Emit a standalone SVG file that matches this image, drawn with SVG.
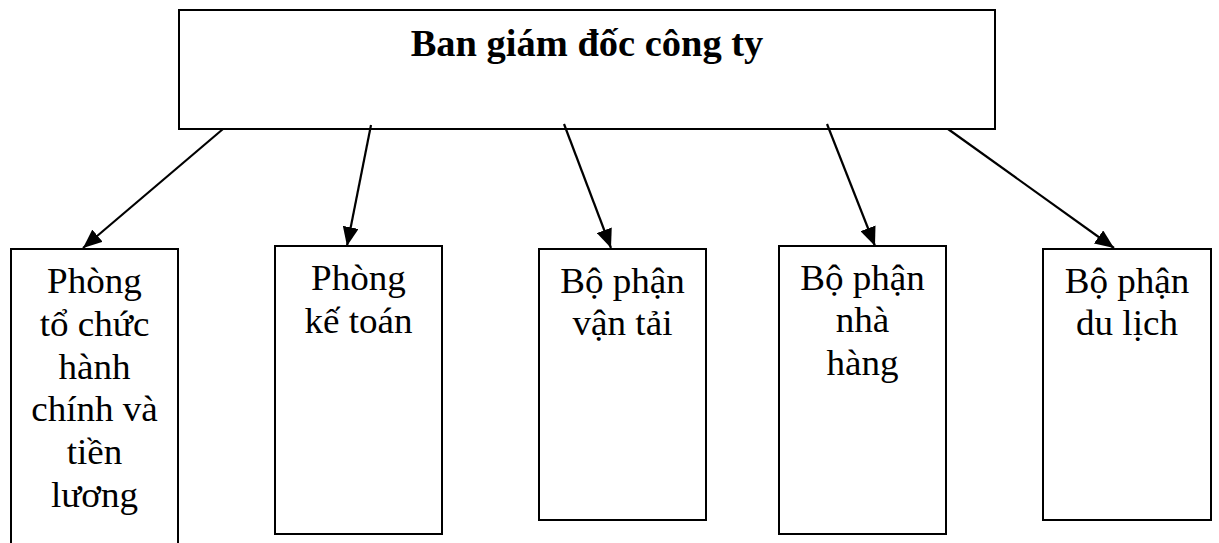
<svg xmlns="http://www.w3.org/2000/svg" width="1219" height="543" viewBox="0 0 1219 543">
  <style>
    .box { fill: #ffffff; stroke: #000000; stroke-width: 2; }
    .title { font-family: "Liberation Serif", "Times New Roman", serif; font-size: 37px; font-weight: bold; fill: #000000; text-anchor: middle; }
    .label { font-family: "Liberation Serif", "Times New Roman", serif; font-size: 35px; fill: #000000; text-anchor: middle; }
    .edge { stroke: #000000; stroke-width: 2.2; fill: none; marker-end: url(#arrow); }
  </style>
  <defs>
    <marker id="arrow" markerUnits="userSpaceOnUse" markerWidth="20" markerHeight="16" refX="19" refY="8" orient="auto">
      <path d="M0,0 L19,8 L0,16 z" fill="#000000"/>
    </marker>
  </defs>
  <rect width="1219" height="543" fill="#ffffff"/>

  <g id="ban-giam-doc">
    <rect class="box" x="179" y="10" width="816" height="119"/>
    <g transform="translate(587 0) scale(1.04 1)">
      <text class="title" x="0" y="56">Ban giám đốc công ty</text>
    </g>
  </g>

  <!-- labels are set slightly wide, as in the printed chart -->
  <g id="phong-to-chuc">
    <rect class="box" x="11" y="249" width="167" height="320"/>
    <g transform="translate(94.5 0) scale(1.06 1)">
      <text class="label" x="0" y="293">Phòng</text>
      <text class="label" x="0" y="336">tổ chức</text>
      <text class="label" x="0" y="379">hành</text>
      <text class="label" x="0" y="421">chính và</text>
      <text class="label" x="0" y="464">tiền</text>
      <text class="label" x="0" y="507">lương</text>
    </g>
  </g>

  <g id="phong-ke-toan">
    <rect class="box" x="275" y="246" width="167" height="288"/>
    <g transform="translate(358.5 0) scale(1.06 1)">
      <text class="label" x="0" y="290">Phòng</text>
      <text class="label" x="0" y="333">kế toán</text>
    </g>
  </g>

  <g id="bo-phan-van-tai">
    <rect class="box" x="539" y="249" width="167" height="271"/>
    <g transform="translate(622.5 0) scale(1.06 1)">
      <text class="label" x="0" y="293">Bộ phận</text>
      <text class="label" x="0" y="335">vận tải</text>
    </g>
  </g>

  <g id="bo-phan-nha-hang">
    <rect class="box" x="779" y="246" width="167" height="288"/>
    <g transform="translate(862.5 0) scale(1.06 1)">
      <text class="label" x="0" y="290">Bộ phận</text>
      <text class="label" x="0" y="332">nhà</text>
      <text class="label" x="0" y="375">hàng</text>
    </g>
  </g>

  <g id="bo-phan-du-lich">
    <rect class="box" x="1043" y="249" width="168" height="271"/>
    <g transform="translate(1127 0) scale(1.06 1)">
      <text class="label" x="0" y="293">Bộ phận</text>
      <text class="label" x="0" y="335">du lịch</text>
    </g>
  </g>

  <g id="connectors">
    <line class="edge" x1="223" y1="129" x2="83" y2="248"/>
    <line class="edge" x1="371" y1="125" x2="347" y2="246"/>
    <line class="edge" x1="564" y1="124" x2="611" y2="248"/>
    <line class="edge" x1="827" y1="124" x2="875" y2="246"/>
    <line class="edge" x1="948" y1="129" x2="1114" y2="248"/>
  </g>
</svg>
